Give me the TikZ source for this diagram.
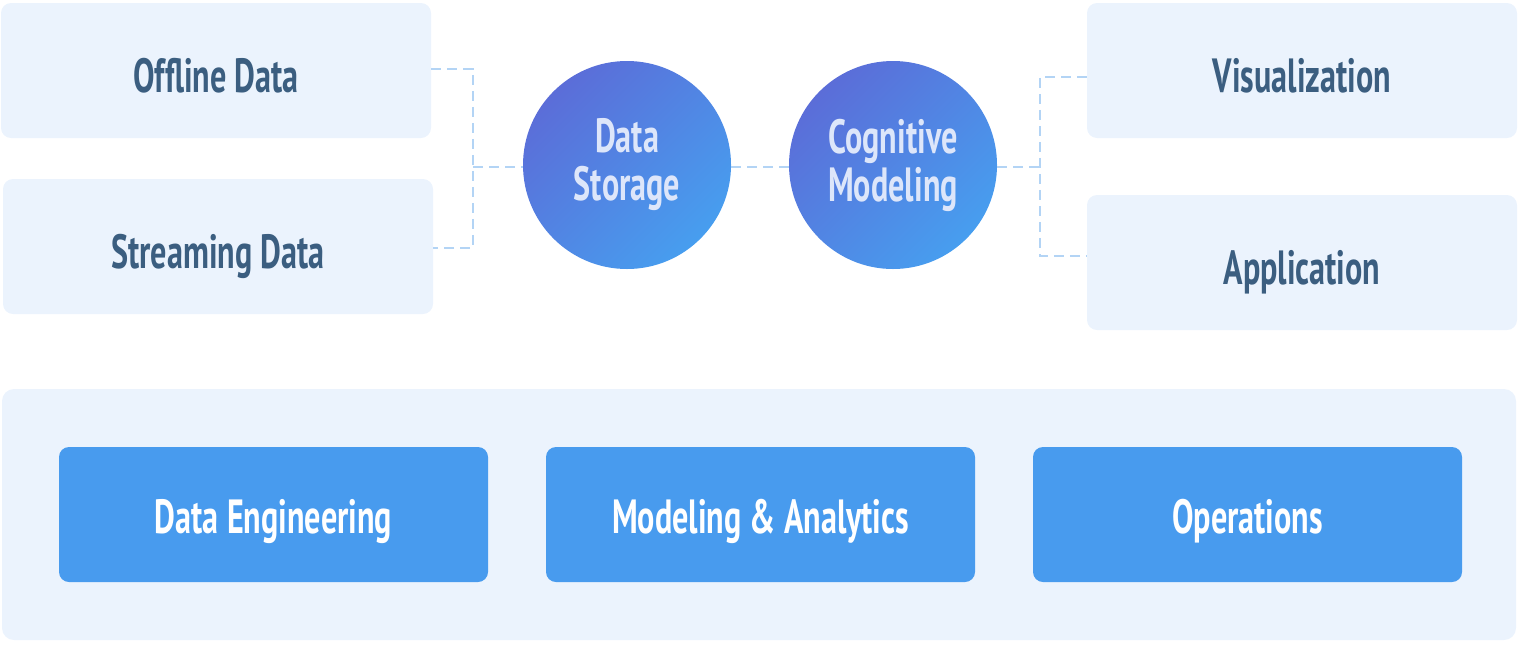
\documentclass[tikz,border=0pt]{standalone}
\usepackage{fontspec}
\setmainfont{PT Sans}[FakeStretch=0.67]
\usetikzlibrary{calc}
\definecolor{paneFill}{HTML}{EBF3FD}
\definecolor{labelText}{HTML}{3B5E80}
\definecolor{dashLine}{HTML}{B3D4F5}
\definecolor{blockFill}{HTML}{489BEE}
\definecolor{orbTop}{HTML}{5B6DD8}
\definecolor{orbBottom}{HTML}{479EEF}
\definecolor{orbText}{HTML}{DDE6FA}
\tikzset{
  source/.style={rectangle, rounded corners=5pt, fill=paneFill, text=labelText,
    minimum width=215pt, minimum height=67.5pt, inner sep=0pt,
    text height=21.5pt, text depth=0pt,
    font=\fontsize{24}{24}\selectfont\bfseries},
  orb/.style={circle, minimum size=104pt, inner sep=0pt, align=center,
    top color=orbTop, bottom color=orbBottom, shading angle=45, text=orbText,
    font=\fontsize{24}{24}\selectfont\bfseries},
  block/.style={rectangle, rounded corners=5pt, fill=blockFill, text=white,
    minimum width=214.5pt, minimum height=67.5pt, inner sep=0pt,
    text height=18.5pt, text depth=0pt,
    font=\fontsize{24}{24}\selectfont\bfseries},
  link/.style={draw=dashLine, line width=1pt, dash pattern=on 5pt off 3pt}
}
\begin{document}
\begin{tikzpicture}[x=0.5pt,y=-0.5pt]
\useasboundingbox (0,0) rectangle (1518,644);

% bottom panel
\node[rectangle, rounded corners=6pt, fill=paneFill, minimum width=757pt, minimum height=125.5pt, inner sep=0pt] (panel) at (759,514.5) {};

% inputs and outputs
\node[source] (offline)   at (216,70.5)  {Offline Data};
\node[source] (streaming) at (218,246.5) {Streaming Data};
\node[source] (visual)    at (1302,70.5) {Visualization};
\node[source] (applic)    at (1302,262.5){Application};

% core
\node[orb] (storage)   at (627,165) {Data\\Storage};
\node[orb] (cognitive) at (893,165) {Cognitive\\Modeling};

% junctions
\coordinate (jleft)  at (473,167);
\coordinate (jright) at (1040,167);

\draw[link] ($(offline.east)+(0,-2)$) -| (jleft) |- ($(streaming.east)+(0,1.5)$);
\draw[link] (jleft) -- (jleft -| storage.west);
\draw[link] (storage.east |- jleft) -- (cognitive.west |- jleft);
\draw[link] (cognitive.east |- jright) -- (jright);
\draw[link] ($(visual.west)+(0,6)$) -| (jright) |- ($(applic.west)+(0,-6.5)$);

% practice blocks
\node[block] (engineering) at (273.5,514.5)  {Data Engineering};
\node[block] (analytics)   at (760.5,514.5)  {Modeling \& Analytics};
\node[block] (operations)  at (1247.5,514.5) {Operations};

\end{tikzpicture}
\end{document}
